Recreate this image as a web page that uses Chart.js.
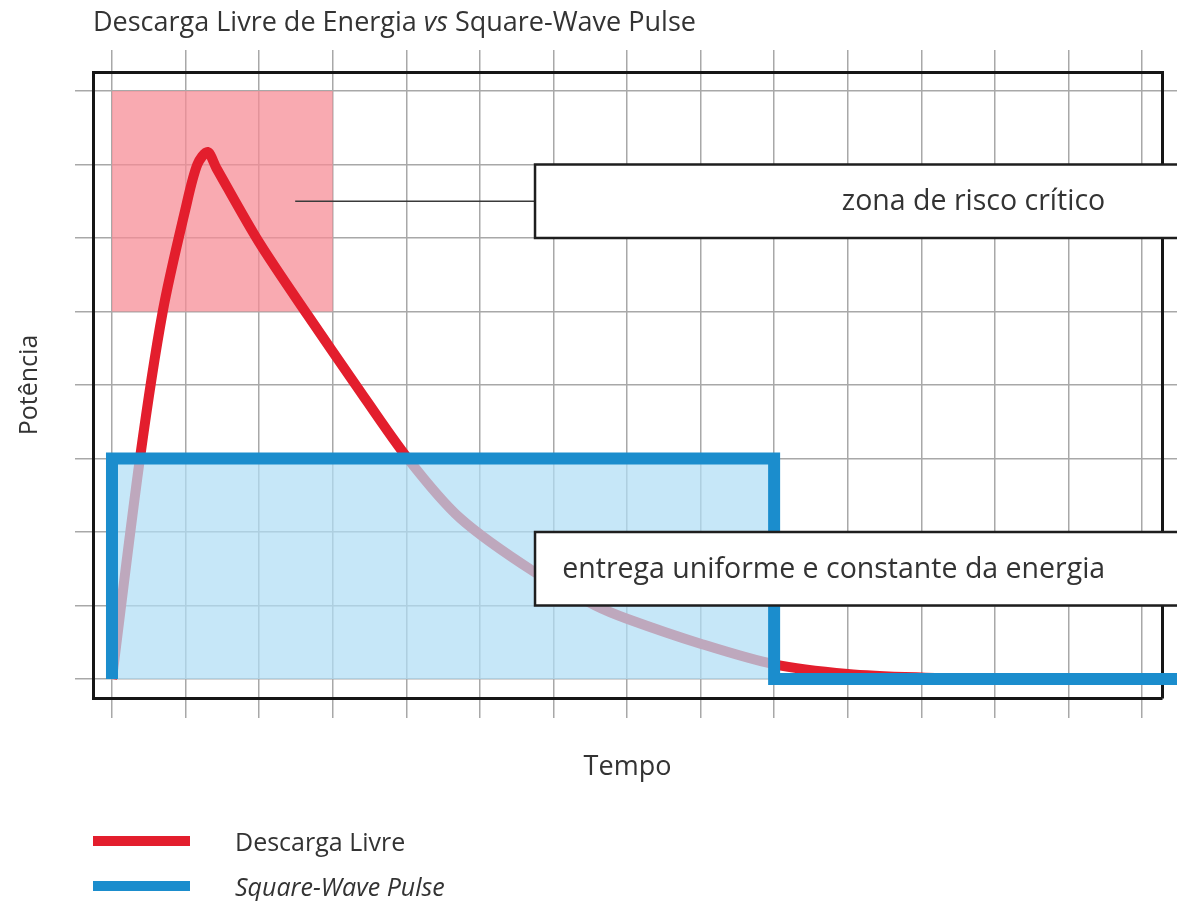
<!DOCTYPE html>
<html>
<head>
<meta charset="utf-8">
<script src="https://cdn.jsdelivr.net/npm/chart.js@4.4.1/dist/chart.umd.min.js"></script>
<style>
  html, body { margin: 0; padding: 0; background: #fff; }
  #wrap { position: relative; width: 1177px; height: 901px; font-family: 'Open Sans', sans-serif; color: #333; }
  #grafico { display: block; }
  #titulo { position: absolute; left: 93px; top: 5px; font-size: 27px; line-height: 32px; white-space: nowrap; }
  #legenda { position: absolute; left: 93px; top: 818px; font-size: 25px; }
  .item { display: flex; align-items: center; height: 45px; white-space: nowrap; }
  .amostra { width: 97px; height: 10px; margin-right: 45px; }
</style>
</head>
<body>
<div id="wrap">
  <canvas id="grafico" width="1177" height="901"></canvas>
  <div id="titulo">Descarga Livre de Energia <i>vs</i> Square-Wave Pulse</div>
  <div id="legenda"></div>
</div>
<script>
// valores (tempo e potencia em unidades da grade)
const tempoDescarga = [0, 0.38, 0.69, 1.0, 1.16, 1.3, 1.42, 2.0, 2.66, 3.3, 4.02, 4.73, 5.75, 6.57, 7, 8, 9, 10, 11, 12];
const potenciaDescarga = [0, 3, 5, 6.4, 7.0, 7.17, 6.95, 5.94, 4.95, 4.02, 3.0, 2.19, 1.45, 1.0, 0.82, 0.48, 0.2, 0.07, 0.02, 0];
const tempoPulso = [0, 0, 9, 9, 14.6];
const potenciaPulso = [0, 3, 3, 0, 0];
const rotulos = ['Descarga Livre', 'Square-Wave Pulse'];
const textosCaixas = ['zona de risco crítico', 'entrega uniforme e constante da energia'];

const X_MIN = -0.258, X_MAX = 14.272;
const Y_MIN = -0.2585, Y_MAX = 8.2585;
const corGrade = '#a8a8a8';
const corMoldura = '#161616';
const fonte = "'Open Sans', sans-serif";

function pontos(xs, ys) {
  return xs.map((x, i) => ({ x: x, y: ys[i] }));
}

const anotacoes = {
  id: 'anotacoes',
  beforeDatasetsDraw(chart) {
    const { ctx, scales: { x, y } } = chart;
    // zona rosa
    const l = x.getPixelForValue(0), r = x.getPixelForValue(3);
    const t = y.getPixelForValue(8), b = y.getPixelForValue(5);
    ctx.save();
    ctx.fillStyle = 'rgba(247,140,150,0.74)';
    ctx.fillRect(l, t, r - l, b - t);
    ctx.restore();
  },
  afterDraw(chart) {
    const { ctx, scales: { x, y } } = chart;
    ctx.save();
    // linha de ligacao da zona de risco
    ctx.strokeStyle = '#3a3a3a';
    ctx.lineWidth = 1.5;
    ctx.beginPath();
    ctx.moveTo(x.getPixelForValue(2.49), y.getPixelForValue(6.5));
    ctx.lineTo(x.getPixelForValue(5.75), y.getPixelForValue(6.5));
    ctx.stroke();

    const caixas = [[7, 6], [2, 1]];
    caixas.forEach((c, i) => {
      const l = x.getPixelForValue(5.75);
      const t = y.getPixelForValue(c[0]);
      const b = y.getPixelForValue(c[1]);
      const r = chart.width + 10;
      ctx.fillStyle = '#fff';
      ctx.fillRect(l, t, r - l, b - t);
      ctx.strokeStyle = '#1e1e1e';
      ctx.lineWidth = 2.5;
      ctx.strokeRect(l, t, r - l, b - t);
      ctx.fillStyle = '#333';
      ctx.font = '28.5px ' + fonte;
      ctx.textAlign = 'right';
      ctx.textBaseline = 'middle';
      ctx.fillText(textosCaixas[i], x.getPixelForValue(13.5), (t + b) / 2 + 1);
    });
    ctx.restore();
  }
};

const eixoOculto = {
  type: 'linear',
  ticks: { stepSize: 1, display: false, includeBounds: false },
  border: { display: true, color: corMoldura, width: 3 }
};

const grafico = new Chart(document.getElementById('grafico'), {
  type: 'line',
  data: {
    datasets: [
      {
        label: rotulos[0],
        data: pontos(tempoDescarga, potenciaDescarga),
        borderColor: '#e31e2d',
        borderWidth: 10,
        borderJoinStyle: 'round',
        pointRadius: 0,
        tension: 0.3,
        fill: false,
        order: 2
      },
      {
        label: rotulos[1],
        data: pontos(tempoPulso, potenciaPulso),
        borderColor: '#1b8dcd',
        backgroundColor: 'rgba(176,222,245,0.72)',
        borderWidth: 12,
        borderJoinStyle: 'miter',
        borderCapStyle: 'butt',
        pointRadius: 0,
        tension: 0,
        fill: 'origin',
        clip: false,
        order: 1,
        italico: true
      }
    ]
  },
  options: {
    responsive: false,
    animation: false,
    layout: { padding: { left: 8, top: 50, right: 0, bottom: 117 } },
    plugins: {
      legend: { display: false },
      tooltip: { enabled: false }
    },
    scales: {
      x: Object.assign({}, eixoOculto, {
        position: 'bottom', min: X_MIN, max: X_MAX,
        grid: { color: corGrade, lineWidth: 1.5, tickLength: 20 },
        title: { display: true, text: 'Tempo', color: '#333', font: { family: fonte, size: 27 }, padding: { top: 33.6, bottom: 0 } }
      }),
      xTopo: Object.assign({}, eixoOculto, {
        position: 'top', min: X_MIN, max: X_MAX,
        grid: { color: corGrade, lineWidth: 1.5, tickLength: 22, drawOnChartArea: false }
      }),
      y: Object.assign({}, eixoOculto, {
        position: 'left', min: Y_MIN, max: Y_MAX,
        grid: { color: corGrade, lineWidth: 1.5, tickLength: 18 },
        title: { display: true, text: 'Potência', color: '#333', font: { family: fonte, size: 25 }, padding: { top: 7, bottom: 30 } }
      }),
      yDireita: Object.assign({}, eixoOculto, {
        position: 'right', min: Y_MIN, max: Y_MAX,
        grid: { color: corGrade, lineWidth: 1.5, tickLength: 15, drawOnChartArea: false }
      })
    }
  },
  plugins: [anotacoes]
});

// legenda em html a partir dos datasets
const divLegenda = document.getElementById('legenda');
divLegenda.innerHTML = grafico.data.datasets.map(ds =>
  `<div class="item"><span class="amostra" style="background:${ds.borderColor}"></span>` +
  `<span style="font-style:${ds.italico ? 'italic' : 'normal'}">${ds.label}</span></div>`
).join('');
</script>
</body>
</html>
